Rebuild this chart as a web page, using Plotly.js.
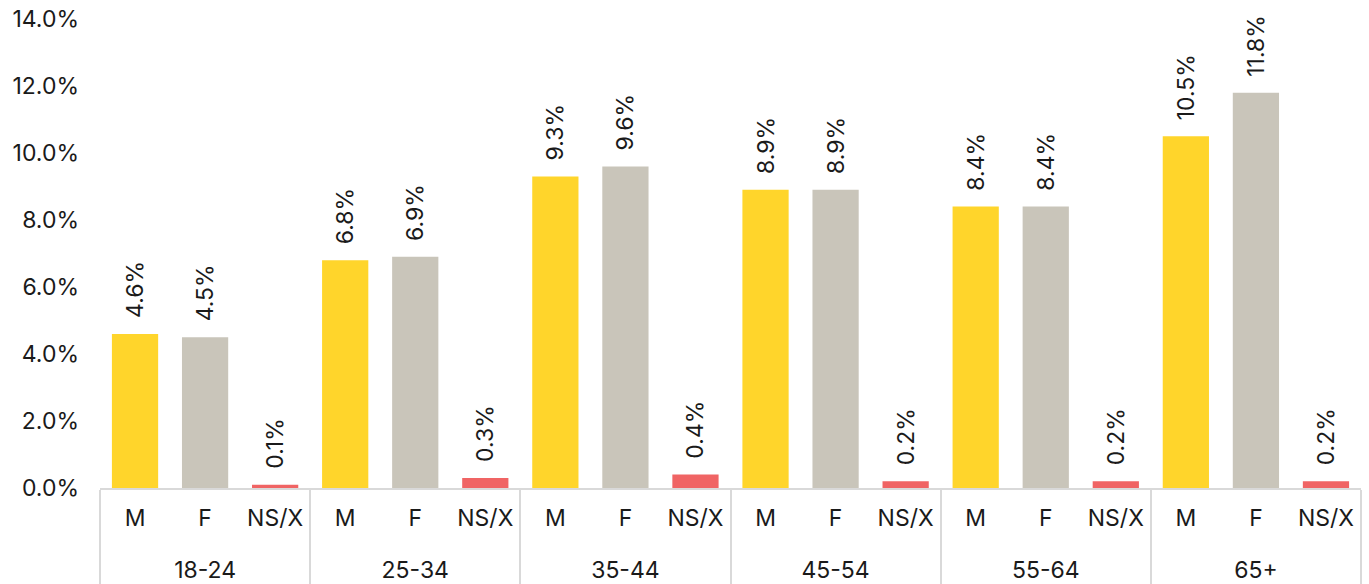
<!DOCTYPE html>
<html>
<head>
<meta charset="utf-8">
<script src="https://cdn.plot.ly/plotly-3.0.1.min.js"></script>
<style>html,body{margin:0;padding:0;background:#fff;}#chart{width:1369px;height:584px;}</style>
</head>
<body>
<div id="chart"></div>
<script>
const ageGroups = ["18-24", "25-34", "35-44", "45-54", "55-64", "65+"];
const genders = ["M", "F", "NS/X"];
const maleValues = [4.6, 6.8, 9.3, 8.9, 8.4, 10.5];
const femaleValues = [4.5, 6.9, 9.6, 8.9, 8.4, 11.8];
const nsxValues = [0.1, 0.3, 0.4, 0.2, 0.2, 0.2];
const genderColors = {"M": "#FFD52B", "F": "#C9C5BA", "NS/X": "#F06464"};

const xGroup = [], xSub = [], yVals = [], colors = [];
const seriesByGender = {"M": maleValues, "F": femaleValues, "NS/X": nsxValues};
ageGroups.forEach((g, i) => {
  genders.forEach(s => {
    xGroup.push("<br>" + g);
    xSub.push(s);
    yVals.push(seriesByGender[s][i]);
    colors.push(genderColors[s]);
  });
});

const fontFam = "Inter, 'Noto Sans', sans-serif";
const trace = {
  type: "bar",
  x: [xGroup, xSub],
  y: yVals,
  marker: {color: colors},
  texttemplate: "\u00a0\u00a0%{y:.1f}%",
  textposition: "outside",
  textangle: -90,
  constraintext: "none",
  cliponaxis: false,
  textfont: {family: fontFam, size: 23, color: "#1a1a1a"},
  hoverinfo: "skip"
};

const layout = {
  width: 1369, height: 584,
  margin: {l: 100, r: 8, t: 19, b: 96},
  paper_bgcolor: "#fff", plot_bgcolor: "#fff",
  bargap: 0.34,
  showlegend: false,
  font: {family: fontFam, size: 23, color: "#1a1a1a"},
  xaxis: {
    type: "multicategory",
    showline: true, linecolor: "#d9d9d9", linewidth: 2,
    showdividers: true, dividercolor: "#d9d9d9", dividerwidth: 2,
    ticks: "", ticklabelstandoff: 8,
    tickfont: {family: fontFam, size: 23, color: "#1a1a1a"}
  },
  yaxis: {
    range: [0, 14], dtick: 2, tickformat: ".1f", ticksuffix: "%",
    showgrid: false, zeroline: false, showline: false,
    tickfont: {family: fontFam, size: 23, color: "#1a1a1a"},
    ticklabelstandoff: 20
  }
};

Plotly.newPlot("chart", [trace], layout, {displayModeBar: false, staticPlot: true});
</script>
</body>
</html>
